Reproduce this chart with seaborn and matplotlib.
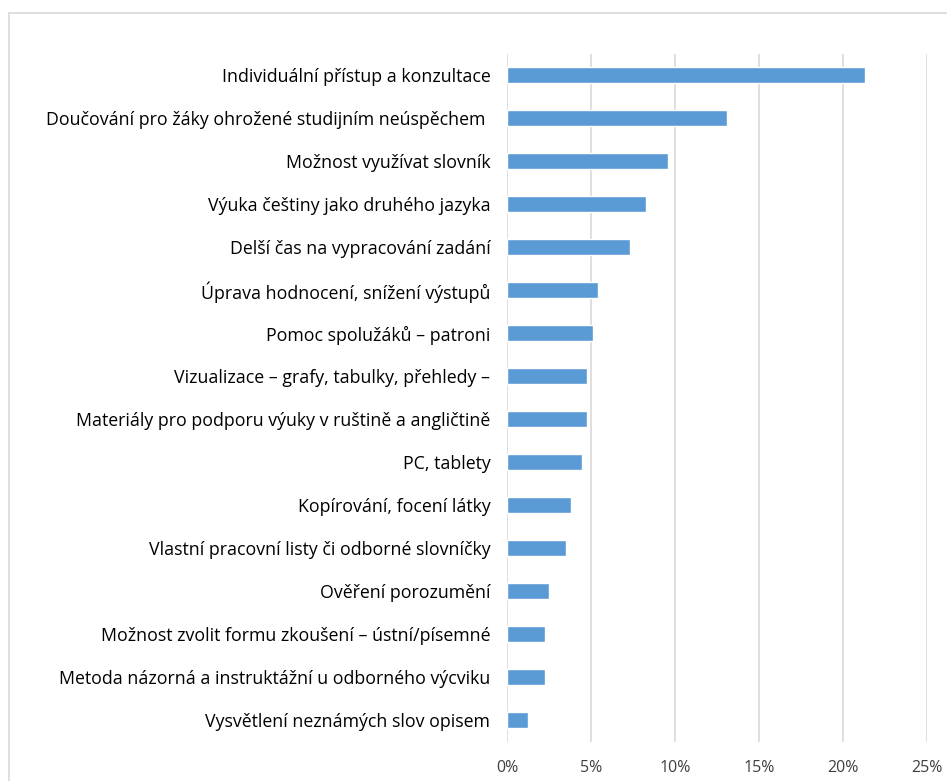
import matplotlib
matplotlib.use("Agg")
import matplotlib.pyplot as plt
import seaborn as sns
import pandas as pd
from matplotlib.patches import Rectangle
from matplotlib.ticker import PercentFormatter

# Data (percent)
kategorie = [
    "Individuální přístup a konzultace",
    "Doučování pro žáky ohrožené studijním neúspěchem ",
    "Možnost využívat slovník",
    "Výuka češtiny jako druhého jazyka",
    "Delší čas na vypracování zadání",
    "Úprava hodnocení, snížení výstupů",
    "Pomoc spolužáků – patroni",
    "Vizualizace – grafy, tabulky, přehledy –",
    "Materiály pro podporu výuky v ruštině a angličtině",
    "PC, tablety",
    "Kopírování, focení látky",
    "Vlastní pracovní listy či odborné slovníčky",
    "Ověření porozumění",
    "Možnost zvolit formu zkoušení – ústní/písemné",
    "Metoda názorná a instruktážní u odborného výcviku",
    "Vysvětlení neznámých slov opisem",
]
podil = [21.3, 13.1, 9.6, 8.3, 7.3, 5.4, 5.1, 4.75, 4.75, 4.45, 3.8, 3.5, 2.5, 2.25, 2.25, 1.25]
x_ticks = [0, 5, 10, 15, 20, 25]

df = pd.DataFrame({"kategorie": kategorie, "podil": podil})

sns.set_style("white")
plt.rcParams["font.family"] = ["Open Sans", "DejaVu Sans"]

fig = plt.figure(figsize=(9.47, 7.81), dpi=100)
ax = fig.add_axes([507 / 947, 1 - 741.5 / 781, (927 - 507) / 947, (741.5 - 53.5) / 781])

# ramecek grafu
fig.patches.append(Rectangle((9 / 947, -0.1), 1.2, 1 - 12.5 / 781 + 0.1,
                             transform=fig.transFigure, fill=False,
                             edgecolor="#d9d9d9", linewidth=1.2, zorder=0))

sns.barplot(data=df, x="podil", y="kategorie", color="#5b9bd5", width=0.37,
            saturation=1, ax=ax, zorder=3)

ax.set_xlim(0, 25)
ax.set_xticks(x_ticks)
ax.xaxis.set_major_formatter(PercentFormatter(decimals=0))
ax.grid(axis="x", color="#d9d9d9", linewidth=1.2, zorder=0)
ax.grid(axis="y", visible=False)
for s in ax.spines.values():
    s.set_visible(False)
ax.tick_params(axis="both", length=0, colors="#000000")
ax.tick_params(axis="y", pad=12, labelsize=12.8)
ax.tick_params(axis="x", pad=13, labelsize=11.5, labelcolor="#404040")
ax.set_xlabel("")
ax.set_ylabel("")

fig.savefig("out.png", dpi=100)
